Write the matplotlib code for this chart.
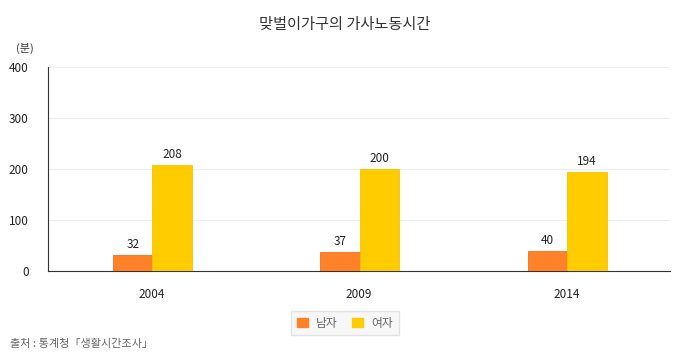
import matplotlib
matplotlib.use("Agg")
import matplotlib.pyplot as plt
from matplotlib.patches import Patch
import numpy as np

plt.rcParams['font.family'] = ['Noto Sans CJK KR', 'DejaVu Sans']

years = ["2004", "2009", "2014"]
men = [32, 37, 40]
women = [208, 200, 194]
series_labels = ["남자", "여자"]
title = "맞벌이가구의 가사노동시간"
unit = "(분)"
source = "출처 : 통계청「생활시간조사」"

c_men = "#FF8229"
c_women = "#FFCC00"

fig = plt.figure(figsize=(6.9, 3.54), dpi=100)
ax = fig.add_axes([48/690, 1-271/354, 622/690, 204/354])

x = np.arange(len(years))
w = 0.19
b1 = ax.bar(x - w/2 + 0.004, men, w, color=c_men, edgecolor="#F07020", linewidth=0.6, zorder=3)
b2 = ax.bar(x + w/2 + 0.004, women, w, color=c_women, edgecolor="#F5C400", linewidth=0.6, zorder=3)

for rects, vals in ((b1, men), (b2, women)):
    for r, v in zip(rects, vals):
        ax.text(r.get_x() + r.get_width()/2, v + 8, str(v), ha="center", va="bottom",
                fontsize=8.5, color="#222222")

ax.set_xlim(-0.5, 2.5)
ax.set_ylim(0, 400)
ax.set_yticks([0, 100, 200, 300, 400])
ax.set_xticks(x)
ax.set_xticklabels(years)
ax.tick_params(axis="both", length=0, labelsize=8.5, colors="#222222")
ax.tick_params(axis="x", pad=12)
ax.tick_params(axis="y", pad=14)
ax.grid(axis="y", color="#EEEEEE", linewidth=0.8, zorder=0)
for s in ("top", "right"):
    ax.spines[s].set_visible(False)
ax.spines["left"].set_color("#333333")
ax.spines["bottom"].set_color("#333333")
ax.spines["left"].set_linewidth(0.8)
ax.spines["bottom"].set_linewidth(0.8)

fig.text(345/690, 1-24/354, title, ha="center", va="center", fontsize=11, color="#333333")
fig.text(25/690, 1-48/354, unit, ha="center", va="center", fontsize=8, color="#333333")
fig.text(10/690, 1-344/354, source, ha="left", va="center", fontsize=8, color="#666666")

handles = [Patch(facecolor=c_men, edgecolor=c_men), Patch(facecolor=c_women, edgecolor=c_women)]
leg = fig.legend(handles, series_labels, loc="center", bbox_to_anchor=(345/690, 1-323/354),
                 ncol=2, fontsize=8.5, frameon=True, fancybox=False, handlelength=0.9,
                 handleheight=0.9, columnspacing=1.2, handletextpad=0.7, borderpad=0.5)
leg.get_frame().set_facecolor("#F5F5F5")
leg.get_frame().set_edgecolor("#DDDDDD")
for t in leg.get_texts():
    t.set_color("#666666")

fig.savefig("out.png", dpi=100)
